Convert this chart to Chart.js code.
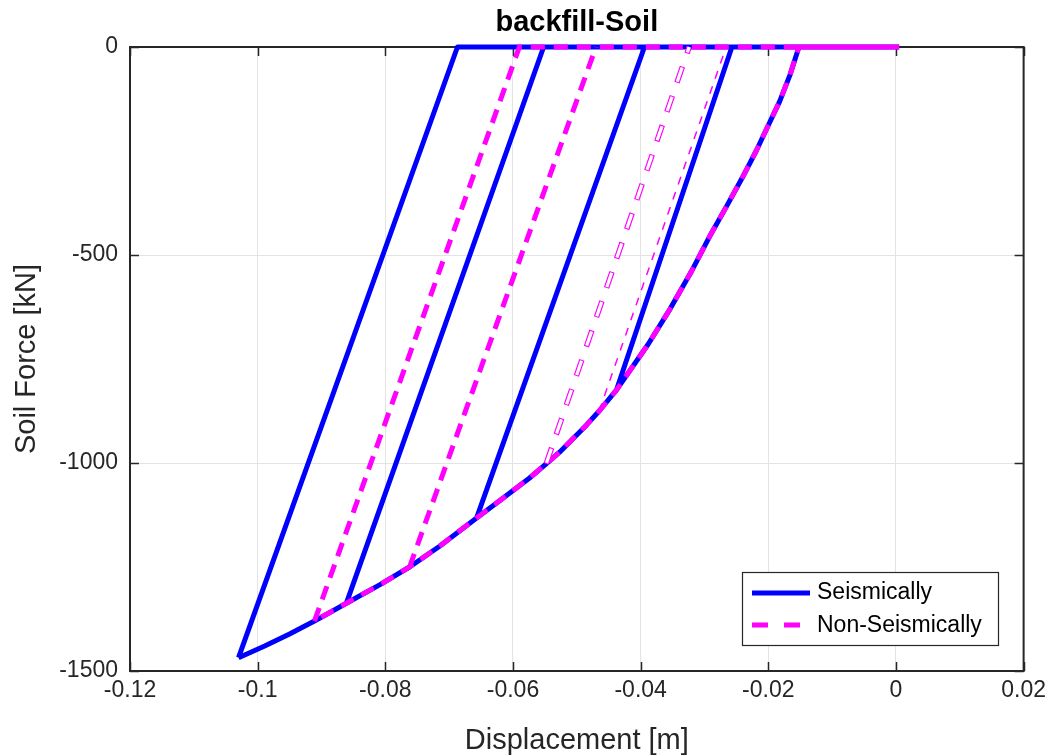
<!DOCTYPE html>
<html>
<head>
<meta charset="utf-8">
<script src="https://cdn.jsdelivr.net/npm/chart.js@4.4.0/dist/chart.umd.min.js"></script>
<style>
  html, body { margin: 0; padding: 0; background: #fff; }
  #wrap { width: 1052px; height: 756px; }
</style>
</head>
<body>
<div id="wrap"><canvas id="soil" width="1052" height="756"></canvas></div>
<script>
var xTicks = [-0.12, -0.1, -0.08, -0.06, -0.04, -0.02, 0, 0.02];
var xTickLabels = ['-0.12', '-0.1', '-0.08', '-0.06', '-0.04', '-0.02', '0', '0.02'];
var yTicks = [-1500, -1000, -500, 0];
var yTickLabels = ['-1500', '-1000', '-500', '0'];

// envelope (backbone) curve, shared by both runs
var backboneX = [-0.0152, -0.0166, -0.0182, -0.0199, -0.0219, -0.0241, -0.0265, -0.0290, -0.0321,
                 -0.0354, -0.0388, -0.0438, -0.0465, -0.0485, -0.0527, -0.0548, -0.0574, -0.0621,
                 -0.0657, -0.0715, -0.0762, -0.0809, -0.0861, -0.0911, -0.0950, -0.0989, -0.1030];
var backboneY = [0, -67, -130, -185, -250, -315, -382, -450, -541,
                 -630, -714, -825, -875, -909, -974, -1002, -1036, -1091,
                 -1132, -1200, -1250, -1293, -1337, -1380, -1411, -1440, -1468];

// seismic run: peaks on the backbone and displacement where force returns to 0
var seisPeakX = [-0.0438, -0.0657, -0.0861, -0.1030];
var seisPeakY = [-825, -1132, -1337, -1468];
var seisResX = [-0.0257, -0.0394, -0.0552, -0.0687];

// non-seismic run
var nonPeakX = [-0.0465, -0.0548, -0.0762, -0.0911];
var nonPeakY = [-875, -1002, -1250, -1380];
var nonResX = [-0.0266, -0.0324, -0.0470, -0.0590];

var startX = 0.0005;

// branches of the non-seismic run that came out as thin / hollow dashes
var nonThin = [0];
var nonHollow = [1];

function buildPath(peakX, peakY, resX, skip) {
  var pts = [{x: startX, y: 0}];
  var last = peakX.length - 1;
  for (var i = 0; i < backboneX.length; i++) {
    if (backboneX[i] > peakX[last] + 1e-9) pts.push({x: backboneX[i], y: backboneY[i]});
  }
  pts.push({x: peakX[last], y: peakY[last]});
  for (var k = 0; k < peakX.length; k++) {
    if (skip.indexOf(k) >= 0) continue;
    pts.push({x: null, y: null});
    pts.push({x: peakX[k], y: peakY[k]});
    pts.push({x: resX[k], y: 0});
  }
  pts.push({x: startX, y: 0});
  return pts;
}

function branches(peakX, peakY, resX, which) {
  var pts = [];
  which.forEach(function(k) {
    if (pts.length) pts.push({x: null, y: null});
    pts.push({x: peakX[k], y: peakY[k]});
    pts.push({x: resX[k], y: 0});
  });
  return pts;
}

var BLUE = '#0000ff';
var MAG = '#ff00ff';
var AXC = '#262626';
var FONT = "'Liberation Sans', Arial, sans-serif";

var frame = {
  id: 'frame',
  beforeDatasetsDraw: function(chart) {
    var c = chart.ctx, a = chart.chartArea;
    var xs = chart.scales.x, ys = chart.scales.y;
    c.save();
    c.strokeStyle = AXC;
    c.lineWidth = 1.5;
    c.beginPath();
    xTicks.forEach(function(v) {
      var p = Math.round(xs.getPixelForValue(v)) + 0.5;
      c.moveTo(p, a.bottom); c.lineTo(p, a.bottom - 9);
      c.moveTo(p, a.top); c.lineTo(p, a.top + 9);
    });
    yTicks.forEach(function(v) {
      var p = Math.round(ys.getPixelForValue(v)) + 0.5;
      c.moveTo(a.left, p); c.lineTo(a.left + 9, p);
      c.moveTo(a.right, p); c.lineTo(a.right - 9, p);
    });
    c.stroke();
    c.lineWidth = 2;
    c.strokeRect(a.left, a.top, a.right - a.left, a.bottom - a.top);
    c.restore();
  },
  afterDraw: function(chart) {
    var c = chart.ctx, a = chart.chartArea;
    c.save();
    c.fillStyle = '#000';
    c.font = 'bold 29px ' + FONT;
    c.textAlign = 'center';
    c.textBaseline = 'middle';
    c.fillText('backfill-Soil', (a.left + a.right) / 2, 23);

    // legend box, lower right inside the axes
    var bx = 742, by = 572, bw = 256, bh = 73;
    c.fillStyle = '#fff';
    c.fillRect(bx, by, bw, bh);
    c.strokeStyle = AXC;
    c.lineWidth = 1.2;
    c.strokeRect(bx + 0.5, by + 0.5, bw, bh);
    c.lineWidth = 5;
    c.strokeStyle = BLUE;
    c.beginPath(); c.moveTo(752, 593); c.lineTo(810, 593); c.stroke();
    c.strokeStyle = MAG;
    c.setLineDash([16, 16]);
    c.beginPath(); c.moveTo(752, 625); c.lineTo(816, 625); c.stroke();
    c.setLineDash([]);
    c.fillStyle = '#000';
    c.font = '23px ' + FONT;
    c.textAlign = 'left';
    c.fillText('Seismically', 817, 593);
    c.fillText('Non-Seismically', 817, 626);
    c.restore();
  }
};

var hollowPts = branches(nonPeakX, nonPeakY, nonResX, nonHollow);

new Chart(document.getElementById('soil').getContext('2d'), {
  type: 'scatter',
  data: {
    datasets: [{
      label: 'Seismically',
      order: 4,
      data: buildPath(seisPeakX, seisPeakY, seisResX, []),
      borderColor: BLUE,
      borderWidth: 5,
      borderJoinStyle: 'round'
    }, {
      label: 'Non-Seismically',
      order: 2,
      data: buildPath(nonPeakX, nonPeakY, nonResX, nonThin.concat(nonHollow)),
      borderColor: MAG,
      borderWidth: 5,
      borderDash: [14, 9]
    }, {
      label: 'thin',
      order: 3,
      data: branches(nonPeakX, nonPeakY, nonResX, nonThin),
      borderColor: MAG,
      borderWidth: 1.5,
      borderDash: [8, 8]
    }, {
      label: 'hollow',
      order: 1,
      data: hollowPts,
      borderColor: MAG,
      borderWidth: 5.5,
      borderDash: [17, 14]
    }, {
      label: 'hollow-inner',
      order: 0,
      data: hollowPts,
      borderColor: '#ffffff',
      borderWidth: 3.2,
      borderDash: [15, 16],
      borderDashOffset: -1
    }]
  },
  plugins: [frame],
  options: {
    responsive: false,
    animation: false,
    layout: { padding: { top: 47, right: 27, bottom: 0, left: 0 } },
    datasets: {
      scatter: { showLine: true, pointRadius: 0, spanGaps: false, clip: 6 }
    },
    plugins: { legend: { display: false }, title: { display: false }, tooltip: { enabled: false } },
    scales: {
      x: {
        type: 'linear',
        min: -0.12, max: 0.02,
        afterBuildTicks: function(s) { s.ticks = xTicks.map(function(v) { return {value: v}; }); },
        afterFit: function(s) { s.height = 85; },
        grid: { color: '#e3e3e3', lineWidth: 1, drawTicks: false },
        border: { display: false },
        ticks: {
          padding: 6, color: AXC, maxRotation: 0, autoSkip: false,
          font: { family: FONT, size: 23 },
          callback: function(v, i) { return xTickLabels[i]; }
        },
        title: {
          display: true, text: 'Displacement [m]', color: AXC,
          font: { family: FONT, size: 29, lineHeight: 1 }, padding: { top: 0, bottom: 1 }
        }
      },
      y: {
        type: 'linear',
        min: -1500, max: 0,
        afterBuildTicks: function(s) { s.ticks = yTicks.map(function(v) { return {value: v}; }); },
        afterFit: function(s) { s.width = 130; },
        grid: { color: '#e3e3e3', lineWidth: 1, drawTicks: false },
        border: { display: false },
        ticks: {
          padding: 12, color: AXC, autoSkip: false,
          font: { family: FONT, size: 23 },
          callback: function(v, i) { return yTickLabels[i]; }
        },
        title: {
          display: true, text: 'Soil Force [kN]', color: AXC,
          font: { family: FONT, size: 29 }, padding: { top: 10, bottom: 0 }
        }
      }
    }
  }
});
</script>
</body>
</html>
